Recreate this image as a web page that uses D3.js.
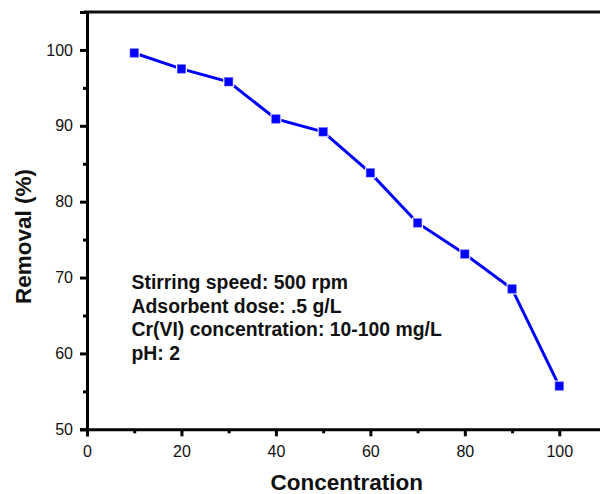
<!DOCTYPE html>
<html>
<head>
<meta charset="utf-8">
<script src="https://cdn.jsdelivr.net/npm/d3@7"></script>
<style>
  html, body { margin: 0; padding: 0; background: #fff; }
  svg { display: block; }
  text { font-family: "Liberation Sans", Arial, sans-serif; }
</style>
</head>
<body>
<script>
const concentration = [10, 20, 30, 40, 50, 60, 70, 80, 90, 100];
const removal = [99.6, 97.5, 95.8, 90.9, 89.2, 83.8, 77.2, 73.1, 68.5, 55.7];
const xTicks = [0, 20, 40, 60, 80, 100];
const yTicks = [50, 60, 70, 80, 90, 100];
const xMinorTicks = [10, 30, 50, 70, 90, 110];
const yMinorTicks = [55, 65, 75, 85, 95];
const annotation = [
  "Stirring speed: 500 rpm",
  "Adsorbent dose: .5 g/L",
  "Cr(VI) concentration: 10-100 mg/L",
  "pH: 2"
];
const xTitle = "Concentration";
const yTitle = "Removal (%)";

const W = 600, H = 494;
const svg = d3.select("body").append("svg").attr("width", W).attr("height", H);

const x = d3.scaleLinear().domain([0, 110]).range([87, 606.5]);
const y = d3.scaleLinear().domain([50, 105]).range([429.3, 12]);

// top frame line
svg.append("line")
  .attr("x1", x(0) - 3).attr("x2", W + 10)
  .attr("y1", y(105)).attr("y2", y(105))
  .attr("stroke", "#111").attr("stroke-width", 3);

// X axis
const xAxis = svg.append("g").attr("transform", `translate(0,${y(50)})`)
  .call(d3.axisBottom(x).tickValues(xTicks).tickSize(7).tickPadding(9).tickFormat(d3.format("d")));
xAxis.select(".domain").attr("stroke-width", 3).attr("stroke", "#000");
xAxis.selectAll(".tick line").attr("stroke-width", 3);
xAxis.selectAll(".tick text").attr("font-size", "16px").attr("fill", "#111")
  .style("font-family", '"Liberation Sans", Arial, sans-serif');
svg.append("g").attr("transform", `translate(0,${y(50)})`)
  .call(d3.axisBottom(x).tickValues(xMinorTicks).tickSize(4).tickFormat(""))
  .call(g => g.select(".domain").remove())
  .selectAll(".tick line").attr("stroke-width", 3);

// Y axis
const yAxis = svg.append("g").attr("transform", `translate(${x(0)},0)`)
  .call(d3.axisLeft(y).tickValues(yTicks).tickSize(7).tickPadding(7).tickFormat(d3.format("d")));
yAxis.select(".domain").attr("stroke-width", 3).attr("stroke", "#000");
yAxis.selectAll(".tick line").attr("stroke-width", 3);
yAxis.selectAll(".tick text").attr("font-size", "16px").attr("fill", "#111")
  .style("font-family", '"Liberation Sans", Arial, sans-serif');
svg.append("g").attr("transform", `translate(${x(0)},0)`)
  .call(d3.axisLeft(y).tickValues(yMinorTicks).tickSize(4).tickFormat(""))
  .call(g => g.select(".domain").remove())
  .selectAll(".tick line").attr("stroke-width", 3);

// line
const pts = concentration.map((c, i) => [c, removal[i]]);
svg.append("path")
  .datum(pts)
  .attr("fill", "none")
  .attr("stroke", "#0000ff")
  .attr("stroke-width", 3)
  .attr("d", d3.line().x(d => x(d[0])).y(d => y(d[1])));

// markers (white halo to mimic gap)
svg.selectAll("rect.halo").data(pts).join("rect")
  .attr("class", "halo")
  .attr("x", d => x(d[0]) - 5.5).attr("y", d => y(d[1]) - 5.5)
  .attr("width", 11).attr("height", 11).attr("fill", "#fff");
svg.selectAll("rect.mk").data(pts).join("rect")
  .attr("class", "mk")
  .attr("x", d => x(d[0]) - 4.2).attr("y", d => y(d[1]) - 4.2)
  .attr("width", 8.4).attr("height", 8.4).attr("fill", "#0000ff")
  .attr("stroke", "#5a5aff").attr("stroke-width", 0.6);

// annotation
svg.append("g").selectAll("text").data(annotation).join("text")
  .attr("x", 131.5)
  .attr("y", (d, i) => 289 + i * 23.5)
  .attr("font-size", "19.4px").attr("font-weight", "bold").attr("fill", "#111")
  .text(d => d);

// axis titles
svg.append("text")
  .attr("x", 346.7).attr("y", 490)
  .attr("text-anchor", "middle")
  .attr("font-size", "22.5px").attr("font-weight", "bold").attr("fill", "#111")
  .text(xTitle);
svg.append("text")
  .attr("transform", "translate(31,236.5) rotate(-90)")
  .attr("text-anchor", "middle")
  .attr("font-size", "22.5px").attr("font-weight", "bold").attr("fill", "#111")
  .text(yTitle);
</script>
</body>
</html>
